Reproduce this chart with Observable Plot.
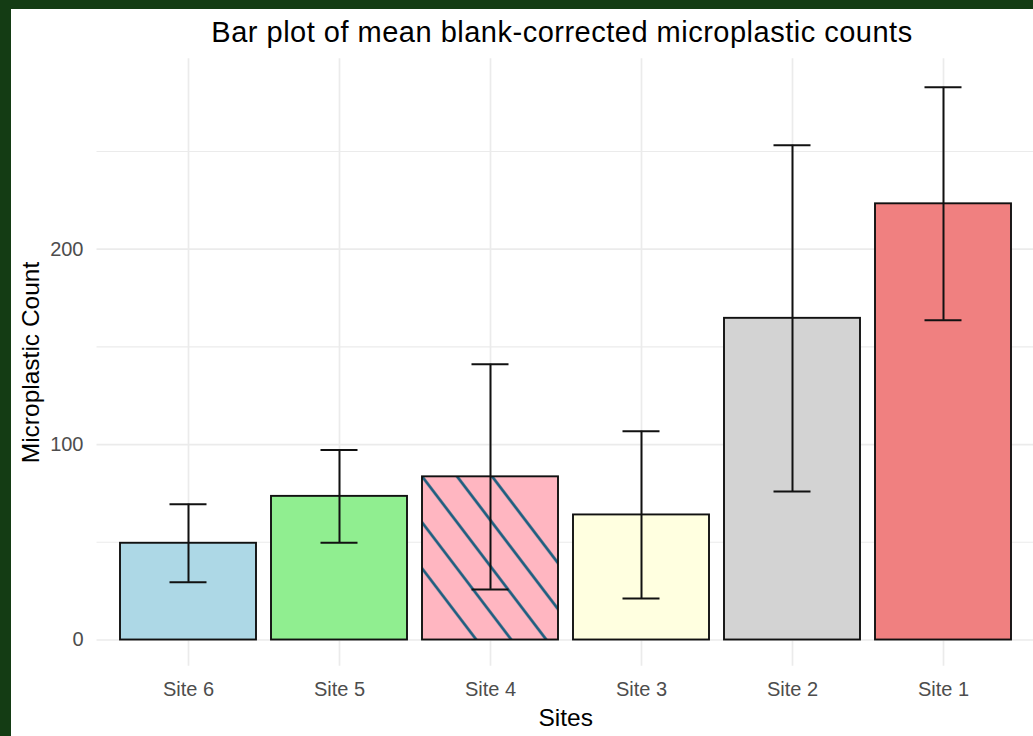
<!DOCTYPE html>
<html>
<head>
<meta charset="utf-8">
<script src="https://cdn.jsdelivr.net/npm/d3@7"></script>
<script src="https://cdn.jsdelivr.net/npm/@observablehq/plot@0.6"></script>
<style>
  html, body { margin: 0; padding: 0; background: #143c14; width: 1033px; height: 736px; overflow: hidden; }
  #frame { position: absolute; left: 11px; top: 9px; width: 1022px; height: 727px; background: #ffffff; overflow: hidden; font-family: "Liberation Sans", Arial, sans-serif; }
  #title { height: 47px; line-height: 47px; box-sizing: border-box; width: 1022px; padding-left: 80px; text-align: center; font-size: 29px; letter-spacing: 0.5px; color: #000; white-space: nowrap; }
  #chart { width: 1030px; }
  #chart svg { display: block; max-width: none !important; font-family: "Liberation Sans", Arial, sans-serif; }
</style>
</head>
<body>
<div id="frame">
  <div id="title">Bar plot of mean blank-corrected microplastic counts</div>
  <div id="chart"></div>
</div>
<script>
// ---- data ----
const sites = ["Site 6", "Site 5", "Site 4", "Site 3", "Site 2", "Site 1"];
const means = [49.5, 73.5, 83.5, 64, 164.6, 223.2];
const lower = [29.5, 49.8, 25.9, 21.2, 76, 163.6];
const upper = [69.5, 97.2, 141.1, 106.8, 253.2, 282.8];
const fills = ["#ADD8E6", "#90EE90", "#FFB6C1", "#FFFFE0", "#D3D3D3", "#F08080"];
const hatchedSites = ["Site 4"];
const majorTicks = [0, 100, 200];
const minorTicks = [50, 150, 250];
const yDomain = [-13.4, 297.4];

const data = sites.map((s, i) => ({site: s, mean: means[i], lo: lower[i], hi: upper[i], fill: fills[i]}));
const hatched = data.filter(d => hatchedSites.includes(d.site));

const plot = Plot.plot({
  width: 1030,
  height: 680,
  marginTop: 2.3,
  marginBottom: 70.3,
  marginLeft: 85.5,
  marginRight: 7,
  style: {background: "transparent", maxWidth: "none"},
  x: {domain: sites, paddingInner: 0.1, paddingOuter: 0.15, align: 0.5, label: null},
  y: {domain: yDomain, label: null},
  color: {type: "identity"},
  marks: [
    Plot.ruleY(minorTicks, {stroke: "#ebebeb", strokeWidth: 1.1}),
    Plot.ruleY(majorTicks, {stroke: "#ebebeb", strokeWidth: 1.7}),
    Plot.ruleX(sites, {x: d => d, stroke: "#ebebeb", strokeWidth: 1.7}),
    Plot.barY(data, {x: "site", y: "mean", fill: "fill"}),
    Plot.barY(hatched, {x: "site", y: "mean", fill: "url(#hatch)"}),
    Plot.barY(data, {x: "site", y: "mean", fill: "none", stroke: "#111111", strokeWidth: 1.9}),
    Plot.ruleX(data, {x: "site", y1: "lo", y2: "hi", stroke: "#111111", strokeWidth: 2}),
    Plot.tickY(data, {x: "site", y: "lo", stroke: "#111111", strokeWidth: 2, insetLeft: 49.5, insetRight: 49.5}),
    Plot.tickY(data, {x: "site", y: "hi", stroke: "#111111", strokeWidth: 2, insetLeft: 49.5, insetRight: 49.5}),
    Plot.axisY({ticks: majorTicks, tickSize: 0, tickPadding: 13.5, fontSize: 20, color: "#4d4d4d", label: null}),
    Plot.axisX({tickSize: 0, tickPadding: 16, fontSize: 20, color: "#4d4d4d", label: null}),
    Plot.text(["Microplastic Count"], {frameAnchor: "left", rotate: -90, dx: -66, textAnchor: "middle", lineAnchor: "middle", fontSize: 24.5, fill: "#000", text: d => d}),
    Plot.text(["Sites"], {frameAnchor: "bottom", dy: 52.3, textAnchor: "middle", lineAnchor: "middle", fontSize: 24.5, fill: "#000", text: d => d})
  ]
});

// hatch pattern: five parallel stripes (spacing 35px horizontally, slope 46/35),
// anchored at the hatched bar's own top-left corner
const ns = "http://www.w3.org/2000/svg";
const defs = document.createElementNS(ns, "defs");
const pat = document.createElementNS(ns, "pattern");
pat.setAttribute("id", "hatch");
pat.setAttribute("patternUnits", "userSpaceOnUse");
pat.setAttribute("width", "600");
pat.setAttribute("height", "800");
const sx = 35, slope = 46 / 35;
let d = "";
for (let k = -2; k <= 2; k++) {
  const x0 = sx * k - 50, y0 = -50 * slope;
  const x1 = sx * k + 500, y1 = 500 * slope;
  d += `M${x0},${y0}L${x1},${y1}`;
}
const path = document.createElementNS(ns, "path");
path.setAttribute("d", d);
path.setAttribute("stroke", "#1f5f80");
path.setAttribute("stroke-width", "2.8");
path.setAttribute("fill", "none");
pat.appendChild(path);
defs.appendChild(pat);
plot.insertBefore(defs, plot.firstChild);
const hg = plot.querySelector('[fill="url(#hatch)"]');
if (hg) {
  const r = hg.tagName.toLowerCase() === "rect" ? hg : hg.querySelector("rect");
  if (r) {
    pat.setAttribute("x", r.getAttribute("x"));
    pat.setAttribute("y", r.getAttribute("y"));
  }
}
document.getElementById("chart").appendChild(plot);
</script>
</body>
</html>
